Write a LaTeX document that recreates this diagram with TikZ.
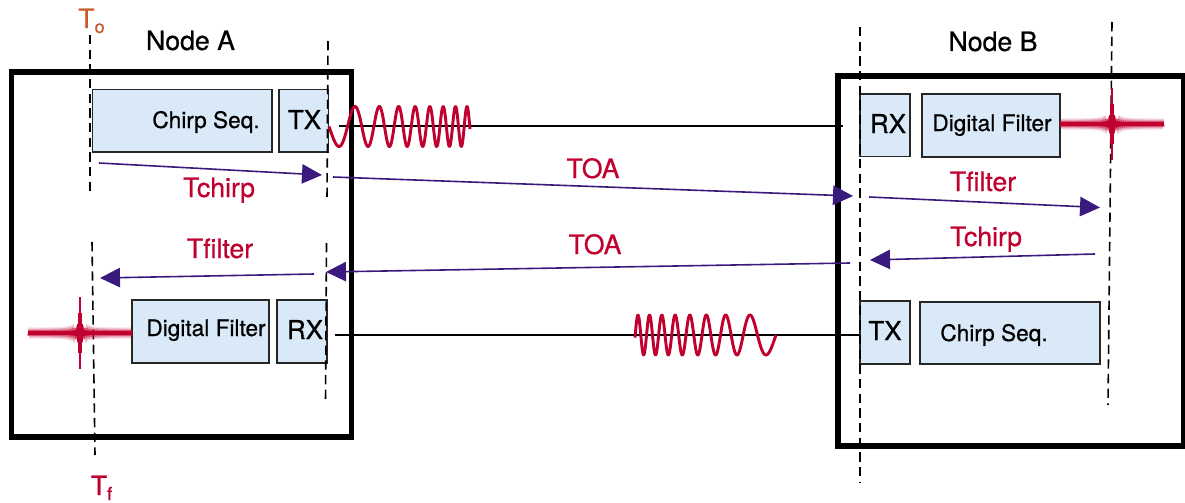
\documentclass[tikz,border=0pt]{standalone}
\usepackage{fontspec}
\setmainfont{TeX Gyre Heros}[FakeBold=0.6]
\usetikzlibrary{arrows.meta}
\definecolor{boxblue}{HTML}{D9E9F8}
\definecolor{sigred}{HTML}{C0002F}
\definecolor{arrowpurple}{HTML}{3A1A7C}
\definecolor{startorange}{HTML}{C85A2A}
\newcommand{\pxfont}[1]{\fontsize{#1}{#1}\selectfont}
\newcommand{\pulsewave}[2]{%
  \begin{scope}[shift={(#1,#2)}]
    \draw[pulseline,line width=3.4pt] (-52,0) -- (52,0);
    \draw[pulseline,line width=0.8pt] plot[domain=-52:52,samples=105]
      (\x,{(2.6+14/(1+0.8*\x*\x)+4/(1+\x*\x/30))*cos(180*\x)});
    \draw[pulseline,line width=1.5pt] (0,-36) -- (0,36);
    \draw[pulseline,line width=3.2pt] (0,-20) -- (0,20);
    \draw[pulseline,line width=5pt] (0,-9) -- (0,9);
  \end{scope}}
\tikzset{
  frame/.style={draw=black,line width=3.9pt,fill=none},
  block/.style={draw=black!85,line width=1.3pt,fill=boxblue},
  tick/.style={draw=black,line width=1.2pt,dash pattern=on 7pt off 4pt},
  flow/.style={draw=arrowpurple,line width=1.2pt,-{Triangle[length=15pt,width=14.5pt]}},
  wire/.style={draw=black,line width=1.2pt},
  chirpline/.style={draw=sigred,line width=2.2pt,line join=round},
  pulseline/.style={draw=sigred},
  blocktext/.style={anchor=base,inner sep=0pt,font=\pxfont{17}},
  porttext/.style={anchor=base,inner sep=0pt,font=\pxfont{19.5}},
  nodetext/.style={anchor=base,inner sep=0pt,font=\pxfont{20}},
  timetext/.style={anchor=base,inner sep=0pt,text=sigred,font=\pxfont{20}},
}
\begin{document}
\begin{tikzpicture}[x=0.75pt,y=-0.75pt]
\useasboundingbox (0,0) rectangle (1185,503);

% frames
\draw[frame] (11.5,72) rectangle (351.5,437);
\draw[frame] (838,76) rectangle (1183.5,446);

% blocks
\path[block] (92.5,89.5) rectangle (272,152);
\path[block] (279,89.5) rectangle (328.5,152);
\path[block] (132,300) rectangle (269,363);
\path[block] (277,300) rectangle (327,363);
\path[block] (860,94) rectangle (910,156.5);
\path[block] (922,94) rectangle (1060,157);
\path[block] (860,301) rectangle (910,364);
\path[block] (920,302) rectangle (1100,364);

% anchor points
\coordinate (to1) at (90,35);   \coordinate (to2) at (90,195);
\coordinate (ar1) at (328,41);  \coordinate (ar2) at (327,200);
\coordinate (tf1) at (92,242);  \coordinate (tf2) at (95,455);
\coordinate (ar3) at (326.5,243); \coordinate (ar4) at (325.5,403);
\coordinate (bl1) at (860,27);  \coordinate (bl2) at (860,482);
\coordinate (br1) at (1112,22); \coordinate (br2) at (1108,405);
\coordinate (w1a) at (339,126); \coordinate (w1b) at (843,126);
\coordinate (w2a) at (335,335); \coordinate (w2b) at (859,335);
\coordinate (f1a) at (99,163);  \coordinate (f1b) at (322,175);
\coordinate (f2a) at (333,177); \coordinate (f2b) at (853,196);
\coordinate (f3a) at (869,197); \coordinate (f3b) at (1100,207.5);
\coordinate (f4a) at (1095,254); \coordinate (f4b) at (870,260);
\coordinate (f5a) at (850,263); \coordinate (f5b) at (326,272);
\coordinate (f6a) at (314,274); \coordinate (f6b) at (100,278);

% signal wires
\draw[wire] (w1a) -- (w1b);
\draw[wire] (w2a) -- (w2b);

% dashed time markers
\draw[tick] (to1) -- (to2);
\draw[tick] (ar1) -- (ar2);
\draw[tick] (tf1) -- (tf2);
\draw[tick] (ar3) -- (ar4);
\draw[tick] (bl1) -- (bl2);
\draw[tick] (br1) -- (br2);

% chirps
\draw[chirpline] plot[domain=0:141,samples=400]
  ({329+\x},{126.5+20*sin(8.1*\x+0.0878*\x*\x)});
\draw[chirpline] plot[domain=0:141,samples=400]
  ({776-\x},{335+20*sin(8.1*\x+0.0878*\x*\x)});

% compressed pulses
\pulsewave{1112}{124}
\pulsewave{80}{333}

% timing arrows
\draw[flow] (f1a) -- (f1b);
\draw[flow] (f2a) -- (f2b);
\draw[flow] (f3a) -- (f3b);
\draw[flow] (f4a) -- (f4b);
\draw[flow] (f5a) -- (f5b);
\draw[flow] (f6a) -- (f6b);

% texts
\node[nodetext] (nodea) at (190.5,50) {Node A};
\node[nodetext] (nodeb) at (993,51) {Node B};
\node[blocktext] (chirpa) at (206,128) {Chirp Seq.};
\node[porttext] (txa) at (304.5,129) {TX};
\node[blocktext] (filta) at (206,336) {Digital Filter};
\node[porttext] (rxa) at (305,339) {RX};
\node[porttext] (rxb) at (888,133) {RX};
\node[blocktext] (filtb) at (992,131) {Digital Filter};
\node[porttext] (txb) at (885,340) {TX};
\node[blocktext] (chirpb) at (994,341) {Chirp Seq.};
\node[timetext] (tchirpa) at (219,197) {Tchirp};
\node[timetext] (tfiltera) at (220,258) {Tfilter};
\node[timetext] (toa1) at (593,178) {TOA};
\node[timetext] (toa2) at (595,254) {TOA};
\node[timetext] (tfilterb) at (983,191) {Tfilter};
\node[timetext] (tchirpb) at (986,246) {Tchirp};
\node[timetext,text=startorange] (tstart) at (91.5,28) {T\raisebox{-3.75pt}{\pxfont{13.5}o}};
\node[timetext] (tfinal) at (101.5,495) {T\raisebox{-3.75pt}{\pxfont{13.5}f}};
\end{tikzpicture}
\end{document}
